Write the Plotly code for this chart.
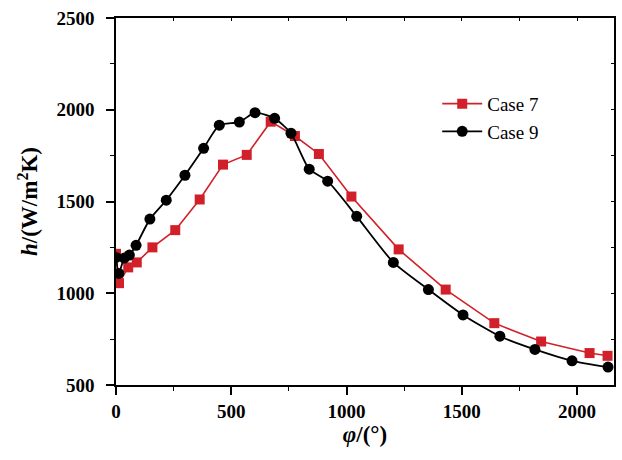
import plotly.graph_objects as go

case7_x = [0, 13, 53, 90, 158, 257, 363, 464, 567, 671, 776, 880, 1021, 1226, 1430, 1641, 1844, 2054, 2132]
case7_y = [1215, 1055, 1141, 1168, 1250, 1344, 1511, 1701, 1754, 1935, 1857, 1759, 1527, 1239, 1020, 837, 737, 674, 659]

case9_x = [0, 12, 36, 58, 87, 147, 218, 299, 380, 448, 535, 603, 688, 759, 838, 918, 1044, 1203, 1355, 1505, 1665, 1817, 1978, 2134]
case9_y = [1195, 1108, 1192, 1208, 1261, 1404, 1507, 1643, 1790, 1916, 1933, 1984, 1953, 1872, 1676, 1611, 1419, 1168, 1020, 882, 766, 694, 632, 598]

x_ticks = [0, 500, 1000, 1500, 2000]
y_ticks = [500, 1000, 1500, 2000, 2500]

RED = "#d2202a"
FONT = "Liberation Serif"

fig = go.Figure()
fig.add_trace(go.Scatter(
    x=case7_x, y=case7_y, mode="lines+markers", name="Case 7",
    line=dict(color=RED, width=1.6),
    marker=dict(symbol="square", size=10, color=RED),
))
fig.add_trace(go.Scatter(
    x=case9_x, y=case9_y, mode="lines+markers", name="Case 9",
    line=dict(color="black", width=1.8, shape="spline", smoothing=0.6),
    marker=dict(symbol="circle", size=11, color="black"),
))
# invisible trace to carry mirrored top/right axes
fig.add_trace(go.Scatter(x=[None], y=[None], xaxis="x2", yaxis="y2", showlegend=False))

axis_common = dict(
    showgrid=False, zeroline=False, showline=True, linecolor="black", linewidth=1.5,
)
fig.update_layout(
    width=622, height=460,
    margin=dict(l=116, r=8, t=16, b=75),
    plot_bgcolor="white", paper_bgcolor="white",
    font=dict(family=FONT, color="black"),
    showlegend=True,
    legend=dict(x=0.645, y=0.818, xanchor="left", yanchor="top",
                font=dict(family=FONT, size=19, color="black"),
                bgcolor="rgba(0,0,0,0)", tracegroupgap=0, itemwidth=40),
    xaxis=dict(
        range=[0, 2160], tickvals=x_ticks, ticktext=[f"<b>{v}</b>" for v in x_ticks],
        ticks="outside", ticklen=8, tickwidth=1.5, tickcolor="black",
        tickfont=dict(family=FONT, size=19, color="black"),
        minor=dict(tickvals=[250, 750, 1250, 1750], ticks="outside", ticklen=4, tickwidth=1.2, tickcolor="black"),
        title=dict(text="<b><i>φ</i>/(°)</b>", font=dict(family=FONT, size=23, color="black"), standoff=4),
        **axis_common,
    ),
    yaxis=dict(
        range=[500, 2500], tickvals=y_ticks, ticktext=[f"<b>{v}</b>" for v in y_ticks],
        ticks="outside", ticklen=8, tickwidth=1.5, tickcolor="black",
        tickfont=dict(family=FONT, size=19, color="black"),
        ticklabelstandoff=8,
        minor=dict(tickvals=[750, 1250, 1750, 2250], ticks="outside", ticklen=4, tickwidth=1.2, tickcolor="black"),
        title=dict(text="<b><i>h</i>/(W/m<sup>2</sup>K)</b>", font=dict(family=FONT, size=23, color="black"), standoff=12),
        **axis_common,
    ),
    xaxis2=dict(
        overlaying="x", side="top", range=[0, 2160], showticklabels=False,
        tickvals=[250 * i for i in range(9)], ticks="inside", ticklen=3, tickwidth=1, tickcolor="black",
        **axis_common,
    ),
    yaxis2=dict(
        overlaying="y", side="right", range=[500, 2500], showticklabels=False,
        tickvals=[500 + 250 * i for i in range(9)], ticks="inside", ticklen=3, tickwidth=1, tickcolor="black",
        **axis_common,
    ),
)

fig.write_html("out.html")
